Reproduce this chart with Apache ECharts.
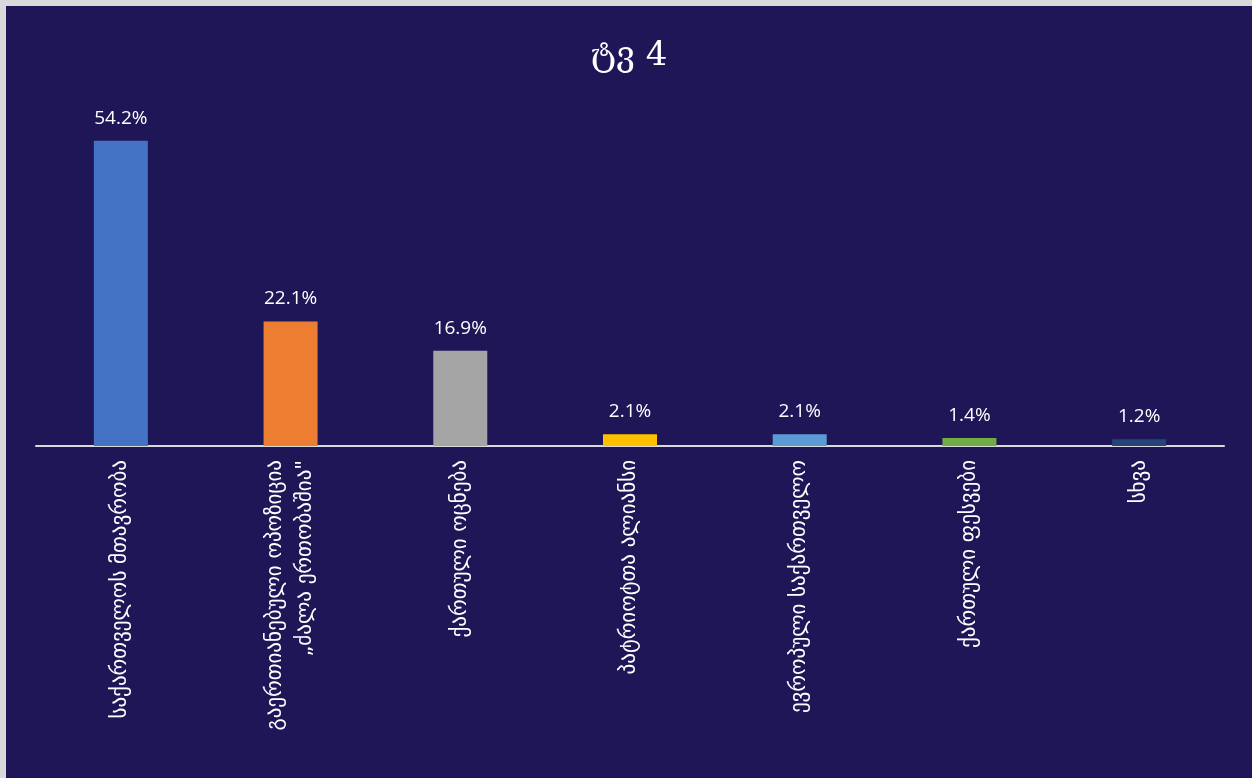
<!DOCTYPE html>
<html>
<head>
<meta charset="utf-8">
<script src="https://cdn.jsdelivr.net/npm/echarts@6/dist/echarts.min.js"></script>
<style>
html,body{margin:0;padding:0;background:#d9d9d9;width:1252px;height:778px;overflow:hidden;}
#c{position:absolute;left:6px;top:6px;width:1246px;height:772px;background:#1f1658;}
</style>
</head>
<body>
<div id="c"></div>
<script>
const titleText = "ტვ 4";
const categories = [
  "საქართველოს მთავრობა",
  "გაერთიანებული ოპოზიცია\n„ძალა ერთობაშია\"",
  "ქართული ოცნება",
  "პატრიოტთა ალიანსი",
  "ევროპული საქართველო",
  "ქართული ფესვები",
  "სხვა"
];
const values = [54.2, 22.1, 16.9, 2.1, 2.1, 1.4, 1.2];
const colors = ["#4472C4", "#ED7D31", "#A5A5A5", "#FFC000", "#5B9BD5", "#70AD47", "#264478"];

const chart = echarts.init(document.getElementById('c'), null, {renderer: 'canvas'});
chart.setOption({
  backgroundColor: '#1f1658',
  animation: false,
  title: {
    text: titleText,
    left: 'center',
    top: 28,
    textStyle: {color: '#ffffff', fontFamily: 'DejaVu Serif', fontSize: 34, fontWeight: 'normal'}
  },
  grid: {left: 30, right: 28, top: 102, bottom: 332, containLabel: false},
  xAxis: {
    type: 'category',
    data: categories,
    axisLine: {lineStyle: {color: '#d9d9d9', width: 2}},
    axisTick: {show: false},
    axisLabel: {
      rotate: 90,
      interval: 0,
      color: '#ffffff',
      fontFamily: 'DejaVu Sans',
      fontSize: 21,
      margin: 14,
      lineHeight: 30
    }
  },
  yAxis: {
    type: 'value',
    min: 0,
    max: 60,
    show: false,
    splitLine: {show: false}
  },
  series: [{
    type: 'bar',
    data: values.map((v, i) => ({value: v, itemStyle: {color: colors[i]}})),
    barWidth: 54,
    label: {
      show: true,
      position: 'top',
      distance: 13,
      color: '#ffffff',
      fontFamily: 'Open Sans',
      fontSize: 19,
      formatter: p => p.value.toFixed(1) + '%'
    }
  }]
});
</script>
</body>
</html>
